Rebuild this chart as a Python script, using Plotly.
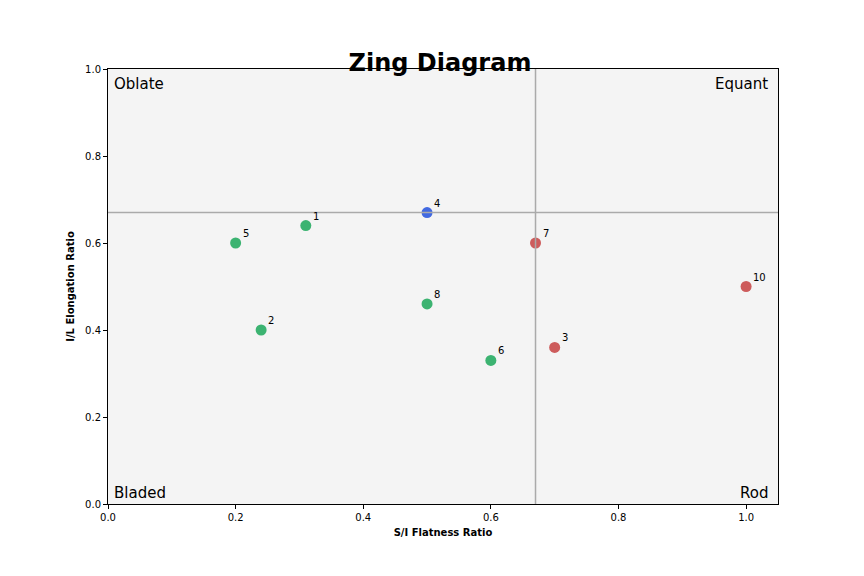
import plotly.graph_objects as go

# sample data
labels = ["1", "2", "3", "4", "5", "6", "7", "8", "10"]
flatness = [0.31, 0.24, 0.70, 0.50, 0.20, 0.60, 0.67, 0.50, 1.00]
elongation = [0.64, 0.40, 0.36, 0.67, 0.60, 0.33, 0.60, 0.46, 0.50]
colors = ["#3cb371", "#3cb371", "#cd5c5c", "#4169e1", "#3cb371",
          "#3cb371", "#cd5c5c", "#3cb371", "#cd5c5c"]
x_ticks = [0.0, 0.2, 0.4, 0.6, 0.8, 1.0]
y_ticks = [0.0, 0.2, 0.4, 0.6, 0.8, 1.0]
split = 0.67

fig = go.Figure()
fig.add_trace(go.Scatter(
    x=flatness, y=elongation, mode="markers",
    marker=dict(color=colors, size=11), showlegend=False,
))

for lab, x, y in zip(labels, flatness, elongation):
    fig.add_annotation(x=x, y=y, text=lab, showarrow=False,
                       xanchor="left", yanchor="bottom", xshift=5, yshift=2,
                       font=dict(size=10, color="black"))

fig.add_vline(x=split, line=dict(color="#aaaaaa", width=1.5))
fig.add_hline(y=split, line=dict(color="#aaaaaa", width=1.5))

corners = [("Oblate", 0, 1, "left", "top"), ("Equant", 1, 1, "right", "top"),
           ("Bladed", 0, 0, "left", "bottom"), ("Rod", 1, 0, "right", "bottom")]
for text, xp, yp, xa, ya in corners:
    fig.add_annotation(x=xp, y=yp, xref="x domain", yref="y domain", text=text,
                       showarrow=False, xanchor=xa, yanchor=ya,
                       xshift=4 if xa == "left" else -8, yshift=-4 if ya == "top" else 0,
                       font=dict(size=15, color="black"))

axis_common = dict(showgrid=False, zeroline=False, showline=True, linecolor="black",
                   mirror=True, ticks="outside", ticklen=4, tickcolor="black",
                   tickfont=dict(size=10, color="black"))
fig.update_xaxes(range=[0, 1.05], tickvals=x_ticks, tickformat=".1f",
                 title=dict(text="<b>S/I Flatness Ratio</b>", font=dict(size=10), standoff=6),
                 **axis_common)
fig.update_yaxes(range=[0, 1], tickvals=y_ticks, tickformat=".1f",
                 title=dict(text="<b>I/L Elongation Ratio</b>", font=dict(size=10), standoff=8),
                 **axis_common)

fig.update_layout(
    width=864, height=576,
    title=dict(text="<b>Zing Diagram</b>", x=0.5, xanchor="center", y=0.905,
               yanchor="middle", font=dict(size=24, color="black")),
    font=dict(family="DejaVu Sans", color="black"),
    plot_bgcolor="#f4f4f4", paper_bgcolor="white",
    margin=dict(l=100, r=94, t=61, b=80),
)

fig.write_html("out.html")
